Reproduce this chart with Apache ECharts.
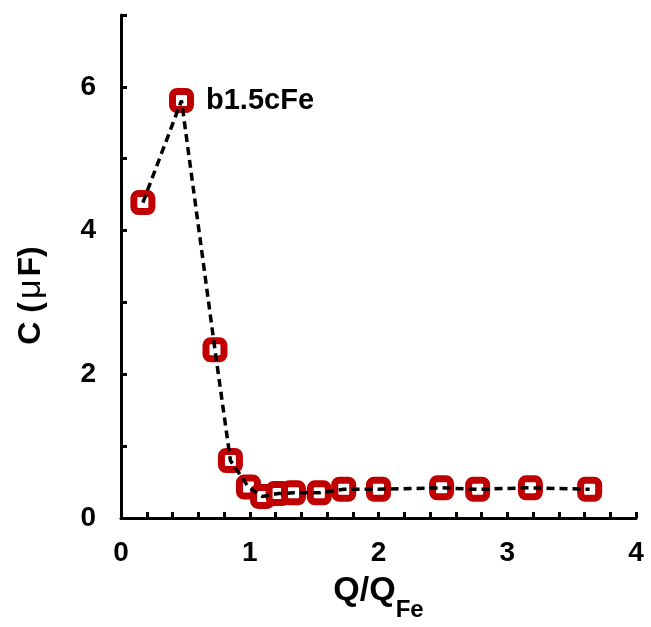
<!DOCTYPE html>
<html>
<head>
<meta charset="utf-8">
<script src="https://cdn.jsdelivr.net/npm/echarts@6/dist/echarts.min.js"></script>
<style>
html,body{margin:0;padding:0;background:#fff;}
#chart{width:651px;height:627px;}
</style>
</head>
<body>
<div id="chart"></div>
<script>
const xVals = [0.17, 0.47, 0.73, 0.85, 0.99, 1.10, 1.22, 1.34, 1.54, 1.73, 2.00, 2.49, 2.77, 3.18, 3.64];
const yVals = [4.39, 5.81, 2.34, 0.80, 0.43, 0.30, 0.34, 0.35, 0.35, 0.40, 0.40, 0.42, 0.40, 0.42, 0.40];
const annotationText = 'b1.5cFe';
const annotationIndex = 1;
const xTitle = 'Q/Q';
const xTitleSub = 'Fe';
const yTitleA = 'C (';
const yTitleMu = 'μ';
const yTitleB = 'F)';

const FONT = '"Liberation Sans", Arial, sans-serif';
const points = xVals.map((x, i) => {
  const item = { value: [x, yVals[i]] };
  if (i === annotationIndex) {
    item.label = {
      show: true, position: 'right', distance: 12, formatter: annotationText,
      color: '#000', fontSize: 29, fontWeight: 'bold', fontFamily: FONT
    };
  }
  return item;
});
const linePts = xVals.map((x, i) => [x, yVals[i]]);

const isInt = v => Math.abs(v - Math.round(v)) < 1e-6;

const chart = echarts.init(document.getElementById('chart'));
chart.setOption({
  animation: false,
  backgroundColor: '#fff',
  grid: { left: 121, right: 15, top: 15, bottom: 109, containLabel: false },
  xAxis: {
    type: 'value', min: 0, max: 4, interval: 0.2,
    axisLine: { show: true, lineStyle: { color: '#000', width: 3 } },
    axisTick: { show: true, inside: true, length: 6, lineStyle: { color: '#000', width: 3 } },
    splitLine: { show: false },
    axisLabel: {
      margin: 21, color: '#000', fontSize: 28, fontWeight: 'bold', fontFamily: FONT,
      showMinLabel: true, showMaxLabel: true,
      formatter: v => isInt(v) ? String(Math.round(v)) : ''
    },
    name: '{a|' + xTitle + '}{b|' + xTitleSub + '}',
    nameLocation: 'middle', nameGap: 42,
    nameTextStyle: {
      rich: {
        a: { fontSize: 34, fontWeight: 'bold', fontFamily: FONT, color: '#000', lineHeight: 62 },
        b: { fontSize: 24, fontWeight: 'bold', fontFamily: FONT, color: '#000', lineHeight: 24, verticalAlign: 'bottom' }
      }
    }
  },
  yAxis: {
    type: 'value', min: 0, max: 7, interval: 1,
    axisLine: { show: true, lineStyle: { color: '#000', width: 3 } },
    axisTick: { show: true, inside: true, length: 6, lineStyle: { color: '#000', width: 3 } },
    splitLine: { show: false },
    axisLabel: {
      margin: 25, color: '#000', fontSize: 28, fontWeight: 'bold', fontFamily: FONT,
      formatter: v => (isInt(v) && Math.round(v) % 2 === 0) ? String(Math.round(v)) : ''
    },
    name: '{a|' + yTitleA + '}{m|' + yTitleMu + '}{a|' + yTitleB + '}',
    nameLocation: 'middle', nameGap: 73, nameRotate: 90,
    nameTextStyle: {
      padding: [0, 58, 0, 0],
      rich: {
        a: { fontSize: 32, fontWeight: 'bold', fontFamily: FONT, color: '#000' },
        m: { fontSize: 34, fontWeight: 'normal', fontFamily: FONT, color: '#000', padding: [0, 3, 0, 3] }
      }
    }
  },
  series: [
    {
      type: 'scatter', data: points, z: 2,
      symbol: 'roundRect', symbolSize: 18,
      itemStyle: { color: '#fff', borderColor: '#C00000', borderWidth: 7, opacity: 1 }
    },
    {
      type: 'line', data: linePts, z: 3, showSymbol: false, symbol: 'none',
      lineStyle: { color: '#000', width: 3.5, type: [8, 5] }
    }
  ]
});
</script>
</body>
</html>
